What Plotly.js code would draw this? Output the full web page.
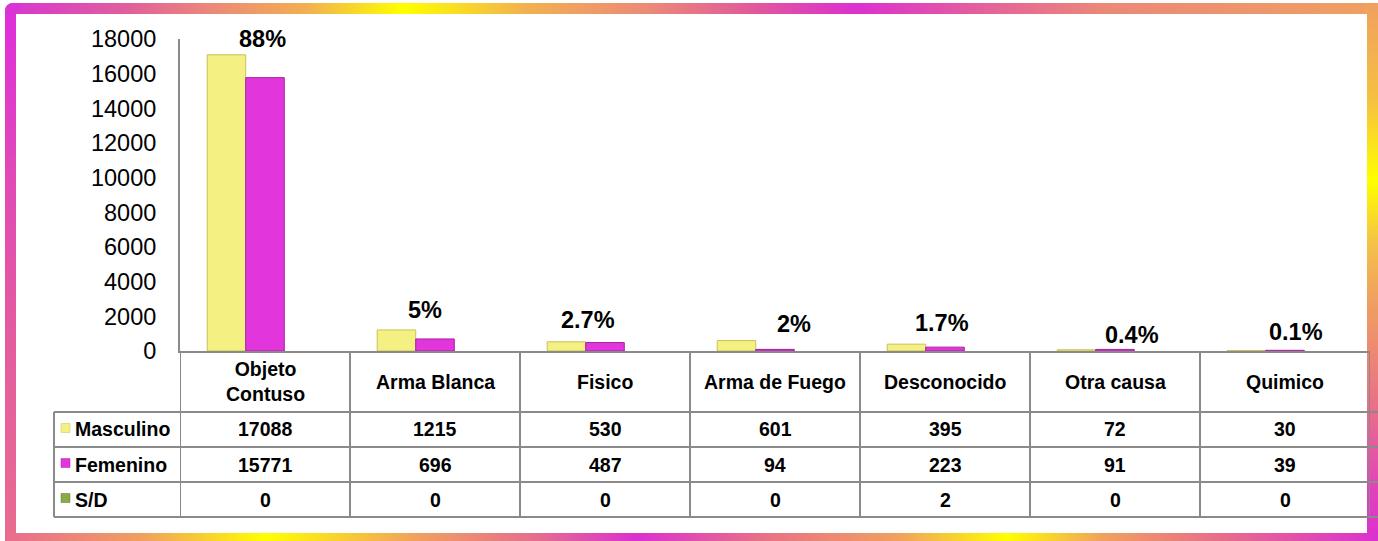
<!DOCTYPE html>
<html>
<head>
<meta charset="utf-8">
<script src="https://cdn.plot.ly/plotly-3.0.1.min.js"></script>
<style>
  html, body { margin: 0; padding: 0; background: #ffffff; }
  #wrap { position: relative; width: 1378px; height: 541px; overflow: hidden; background: #ffffff; }
  .strip { position: absolute; }
  #top { left: 5px; top: 3px; width: 1373px; height: 14px; border-radius: 8px 8px 0 0;
    background: linear-gradient(to right, #d834d4 0%, #e0609c 9%, #ec8878 15%, #f2b050 22%, #ffff00 29%, #f2b050 38%, #ec8878 47%, #e0569e 55%, #dc30d0 62%, #e4609c 71%, #ec8878 80%, #f0a060 100%); }
  #left { left: 5px; top: 3px; width: 14px; height: 538px; border-radius: 8px 0 0 0;
    background: linear-gradient(to bottom, #d834d4 0%, #e030d8 5%, #e048b8 30%, #e45aa0 60%, #e86c90 100%); }
  #right { left: 1364px; top: 3px; width: 14px; height: 538px;
    background: linear-gradient(to bottom, #f0a060 0%, #f6c040 18%, #ffff00 33%, #f4c048 45%, #f0a060 55%, #e87088 75%, #e044b8 90%, #dc30d0 100%); }
  #bottom { left: 5px; top: 530px; width: 1373px; height: 11px;
    background: linear-gradient(to right, #e86c90 0%, #f0a060 10%, #ffff00 19%, #f0a060 30%, #e46c90 39%, #dc30d0 46%, #e87088 55%, #f0a060 65%, #ffff00 73%, #f0a060 80%, #e87088 88%, #dc30d0 100%); }
  #inner { left: 16px; top: 14px; width: 1351px; height: 519px; background: #ffffff; }
  #chart { position: absolute; left: 0; top: 0; width: 1378px; height: 541px; }
</style>
</head>
<body>
<div id="wrap">
  <div class="strip" id="top"></div>
  <div class="strip" id="left"></div>
  <div class="strip" id="right"></div>
  <div class="strip" id="bottom"></div>
  <div class="strip" id="inner"></div>
  <div id="chart"></div>
</div>
<script>
// ---------- DATA ----------
const categories = ['Objeto Contuso', 'Arma Blanca', 'Fisico', 'Arma de Fuego', 'Desconocido', 'Otra causa', 'Quimico'];
const headerLabels = ['Objeto<br>Contuso', 'Arma Blanca', 'Fisico', 'Arma de Fuego', 'Desconocido', 'Otra causa', 'Quimico'];
const seriesNames = ['Masculino', 'Femenino', 'S/D'];
const masculino = [17088, 1215, 530, 601, 395, 72, 30];
const femenino = [15771, 696, 487, 94, 223, 91, 39];
const sinDato = [0, 0, 0, 0, 2, 0, 0];
const porcentajes = ['88%', '5%', '2.7%', '2%', '1.7%', '0.4%', '0.1%'];

// ---------- PLACEMENT / STYLE ----------
const W = 1378, H = 541;
const pctLabelY = [18000, 2390, 1790, 1530, 1590, 920, 1125];
const pctShiftX = [-3, -10, -17, 19, -3, 17, 11];
const seriesFill = ['#f4f082', '#e236dc', '#8aaa48'];
const seriesLine = ['#c8c05a', '#a8209f', 'rgba(0,0,0,0)'];
const seriesLineW = [1, 1, 0];
const gridColor = '#8a8a8a';
const FONT = 'Liberation Sans, Arial, sans-serif';

const plotLeft = 180, plotRight = 1370, plotTop = 39, axisY = 351;
const tableLeft = 54, headerBottom = 412, rowH = 35;

const pxX = v => v / W;
const pxY = v => 1 - v / H;

const series = [masculino, femenino, sinDato];
const traces = series.map((vals, i) => ({
  type: 'bar',
  name: seriesNames[i],
  x: categories,
  y: vals,
  marker: { color: seriesFill[i], line: { color: seriesLine[i], width: seriesLineW[i] } },
  hoverinfo: 'skip'
}));

const shapes = [];
const annotations = [];

// vertical grid lines of the data table (category boundaries)
for (let k = 0; k <= categories.length; k++) {
  shapes.push({
    type: 'line', xref: 'x', yref: 'paper',
    x0: k - 0.5, x1: k - 0.5, y0: pxY(axisY), y1: pxY(headerBottom + rowH * seriesNames.length),
    line: { color: gridColor, width: 2 }
  });
}
// left edge of the series-name column
shapes.push({
  type: 'line', xref: 'paper', yref: 'paper',
  x0: pxX(tableLeft), x1: pxX(tableLeft), y0: pxY(headerBottom), y1: pxY(headerBottom + rowH * seriesNames.length),
  line: { color: gridColor, width: 2 }
});
// horizontal lines of the table rows
for (let r = 0; r <= seriesNames.length; r++) {
  const yy = pxY(headerBottom + rowH * r);
  shapes.push({
    type: 'line', xref: 'paper', yref: 'paper',
    x0: pxX(tableLeft), x1: 1, y0: yy, y1: yy,
    line: { color: gridColor, width: 2 }
  });
}

// header cells (category names)
categories.forEach((c, i) => {
  annotations.push({
    xref: 'x', yref: 'paper', x: c, y: pxY((axisY + headerBottom) / 2),
    text: '<b>' + headerLabels[i] + '</b>', showarrow: false,
    xanchor: 'center', yanchor: 'middle',
    font: { family: FONT, size: 19.5, color: '#000000' }
  });
});

// rows: legend key + values
seriesNames.forEach((name, r) => {
  const yMid = headerBottom + rowH * r + rowH / 2;
  shapes.push({
    type: 'rect', xref: 'paper', yref: 'paper',
    x0: pxX(61), x1: pxX(70), y0: pxY(yMid - 6), y1: pxY(yMid + 3),
    fillcolor: seriesFill[r], line: { color: r === 2 ? '#5f7a2c' : seriesLine[r], width: 0.5 }
  });
  annotations.push({
    xref: 'paper', yref: 'paper', x: pxX(73), y: pxY(yMid),
    text: '<b>' + name + '</b>', showarrow: false,
    xanchor: 'left', yanchor: 'middle',
    font: { family: FONT, size: 19.5, color: '#000000' }
  });
  series[r].forEach((v, i) => {
    annotations.push({
      xref: 'x', yref: 'paper', x: categories[i], y: pxY(yMid),
      text: '<b>' + v + '</b>', showarrow: false,
      xanchor: 'center', yanchor: 'middle',
      font: { family: FONT, size: 19.5, color: '#000000' }
    });
  });
});

// percentage labels above the bars
porcentajes.forEach((p, i) => {
  annotations.push({
    xref: 'x', yref: 'y', x: categories[i], y: pctLabelY[i], xshift: pctShiftX[i],
    text: '<b>' + p + '</b>', showarrow: false,
    xanchor: 'center', yanchor: 'middle',
    font: { family: FONT, size: 23.5, color: '#000000' }
  });
});

const layout = {
  width: W, height: H,
  margin: { l: 0, r: 0, t: 0, b: 0, pad: 0 },
  paper_bgcolor: 'rgba(0,0,0,0)',
  plot_bgcolor: 'rgba(0,0,0,0)',
  showlegend: false,
  barmode: 'group',
  bargap: 0.32,
  bargroupgap: 0,
  font: { family: FONT, color: '#000000' },
  xaxis: {
    type: 'category', domain: [pxX(plotLeft), pxX(plotRight)], range: [-0.5, categories.length - 0.5],
    showticklabels: false, ticks: '', showgrid: false, zeroline: false,
    showline: true, linecolor: gridColor, linewidth: 2, fixedrange: true
  },
  yaxis: {
    domain: [pxY(axisY), pxY(plotTop)], range: [0, 18000], dtick: 2000, tick0: 0,
    tickformat: 'd',
    showgrid: false, zeroline: false, showline: true, linecolor: gridColor, linewidth: 2,
    ticks: '', ticklabelstandoff: 17,
    tickfont: { family: FONT, size: 23.5, color: '#000000' }, fixedrange: true
  },
  shapes: shapes,
  annotations: annotations
};

Plotly.newPlot('chart', traces, layout, { staticPlot: true, displayModeBar: false });
</script>
</body>
</html>
